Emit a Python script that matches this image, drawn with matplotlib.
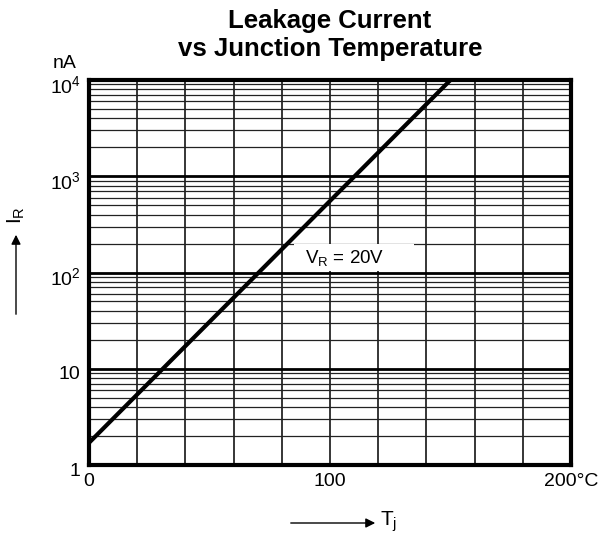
import matplotlib
matplotlib.use("Agg")
import matplotlib.pyplot as plt
from matplotlib.patches import Rectangle
from matplotlib.transforms import ScaledTranslation

plt.rcParams['font.family'] = ['Liberation Sans', 'DejaVu Sans']
plt.rcParams['mathtext.fontset'] = 'custom'
plt.rcParams['mathtext.rm'] = 'Liberation Sans'
plt.rcParams['mathtext.it'] = 'Liberation Sans'

# Data
temp_c = [0, 150]
leak_na = [1.7, 10000]
x_ticks = [0, 100, 200]
x_tick_labels = ['0', '100', '200°C']
y_ticks = [1, 10, 100, 1000, 10000]
y_tick_labels = ['1', '10', '$10^2$', '$10^3$', '$10^4$']
curve_label = '$\\mathregular{V_R}$ = 20V'

fig = plt.figure(figsize=(6, 5.34), dpi=100)
ax = fig.add_axes([89/600, 1-465/534, (571-89)/600, (465-80)/534])
ax.set_xlim(0, 200)
ax.set_yscale('log')
ax.set_ylim(1, 10000)

# grid
for xv in range(20, 200, 20):
    ax.axvline(xv, color='black', lw=1.1, zorder=1)
for d in range(0, 4):
    for m in range(2, 10):
        ax.axhline(m * 10**d, color='#222222', lw=0.9, zorder=1)
    if d > 0:
        ax.axhline(10**d, color='black', lw=2.0, zorder=1)

ax.plot(temp_c, leak_na, color='black', lw=3, zorder=3, solid_capstyle='butt')

ax.add_patch(Rectangle((85, 103), 50, 94, facecolor='white', edgecolor='none', zorder=2))
ax.text(106, 141, curve_label, fontsize=13.5, ha='center', va='center', zorder=4)

for s in ax.spines.values():
    s.set_linewidth(3)
ax.set_xticks(x_ticks)
ax.set_xticklabels(x_tick_labels, fontsize=14)
ax.set_yticks(y_ticks)
ax.set_yticklabels(y_tick_labels, fontsize=14)
ax.minorticks_off()
ax.tick_params(length=0, pad=6)
shift = ScaledTranslation(0, -4/100, fig.dpi_scale_trans)
for lbl in ax.get_yticklabels():
    lbl.set_transform(lbl.get_transform() + shift)

fig.text(65/600, 1-64/534, 'nA', fontsize=14, ha='center', va='center')

fig.text(330/600, 1-21/534, 'Leakage Current', fontsize=18.5, fontweight='bold', ha='center', va='center')
fig.text(330/600, 1-49/534, 'vs Junction Temperature', fontsize=18.5, fontweight='bold', ha='center', va='center')

# axis labels with arrows
fig.text(16/600, 1-215/534, '$\\mathregular{I_R}$', fontsize=15, rotation=90, ha='center', va='center')
ax_arrow = fig.add_axes([0, 0, 1, 1], facecolor='none')
ax_arrow.set_axis_off()
ax_arrow.set_xlim(0, 600); ax_arrow.set_ylim(534, 0)
ax_arrow.annotate('', xy=(16, 232), xytext=(16, 317),
                  arrowprops=dict(arrowstyle='-|>', color='black', lw=1, mutation_scale=14))
ax_arrow.annotate('', xy=(378, 523), xytext=(288, 523),
                  arrowprops=dict(arrowstyle='-|>', color='black', lw=1, mutation_scale=14))
fig.text(380/600, 1-522/534, '$\\mathregular{T_j}$', fontsize=15, ha='left', va='center')

fig.savefig('out.png', dpi=100)
